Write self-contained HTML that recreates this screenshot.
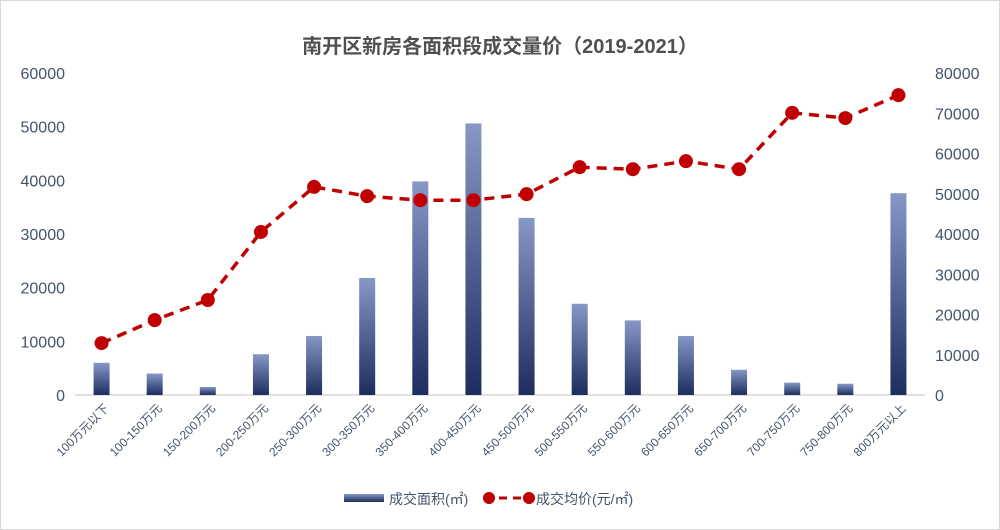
<!DOCTYPE html>
<html><head><meta charset="utf-8"><style>
body{margin:0;background:#fff;}
svg{display:block;font-family:"Liberation Sans","Noto Sans CJK SC",sans-serif;}
</style></head><body>
<svg id="c" width="1000" height="530">
<defs><linearGradient id="g" x1="0" y1="1" x2="0" y2="0"><stop offset="0" stop-color="#1c2d5e"/><stop offset="1" stop-color="#8797c6"/></linearGradient></defs>
<rect x="0.5" y="0.5" width="999" height="529" fill="#fff" stroke="#d9d9d9"/>
<text x="500" y="53" text-anchor="middle" font-size="20" font-weight="bold" fill="#505050">南开区新房各面积段成交量价（2019-2021）</text>
<g id="plot"></g>
<g>
<rect x="344" y="494" width="40" height="8" fill="url(#g)"/>
<text x="389" y="504" font-size="14" fill="#44546a">成交面积(㎡)</text>
<line x1="485" y1="498" x2="533" y2="498" stroke="#c00000" stroke-width="3" stroke-dasharray="8,6"/>
<circle cx="489" cy="498" r="6" fill="#c00000"/>
<circle cx="529" cy="498" r="6" fill="#c00000"/>
<text x="536" y="504" font-size="14" fill="#44546a">成交均价(元/㎡)</text>
</g>
</svg>
<script>
const categories=["100万元以下","100-150万元","150-200万元","200-250万元","250-300万元","300-350万元","350-400万元","400-450万元","450-500万元","500-550万元","550-600万元","600-650万元","650-700万元","700-750万元","750-800万元","800万元以上"];
const areaValues=[6000,4000,1500,7600,11000,21800,39800,50600,33000,17000,13900,11000,4700,2300,2100,37600];
const priceValues=[12900,18600,23600,40500,51700,49400,48400,48400,49900,56600,56100,58100,56100,70100,68800,74500];
const leftTicks=[0,10000,20000,30000,40000,50000,60000];
const rightTicks=[0,10000,20000,30000,40000,50000,60000,70000,80000];
const NS="http://www.w3.org/2000/svg";
const g=document.getElementById('plot');
const x0=75,x1=925,yb=395,yt=73;
const step=(x1-x0)/categories.length;
const xc=i=>x0+step*(i+0.5);
const yl=v=>yb-(v/60000)*(yb-yt);
const yr=v=>yb-(v/80000)*(yb-yt);
function mk(t,a){const e=document.createElementNS(NS,t);for(const k in a)e.setAttribute(k,a[k]);g.appendChild(e);return e;}
leftTicks.forEach(v=>{const t=mk('text',{x:65,y:yl(v)+6,'text-anchor':'end','font-size':16,fill:'#44546a'});t.textContent=v;

});
rightTicks.forEach(v=>{const t=mk('text',{x:935,y:yr(v)+6,'font-size':16,fill:'#44546a'});t.textContent=v;

});
const ax=mk('line',{x1:x0,y1:yb,x2:x1,y2:yb,stroke:'#d9d9d9','stroke-width':1.5});


areaValues.forEach((v,i)=>{const r=mk('rect',{x:xc(i)-8,y:yl(v),width:16,height:yb-yl(v),fill:'url(#g)'});

});
categories.forEach((c,i)=>{const X=xc(i)+8,Y=yb+14;const t=mk('text',{x:X,y:Y,'text-anchor':'end','font-size':12,fill:'#44546a',transform:`rotate(-45 ${X} ${Y})`});t.textContent=c;

});
const pl=mk('polyline',{points:priceValues.map((v,i)=>xc(i)+','+yr(v)).join(' '),fill:'none',stroke:'#c00000','stroke-width':3.5,'stroke-dasharray':'10,7'});


priceValues.forEach((v,i)=>{const c=mk('circle',{cx:xc(i),cy:yr(v),r:7,fill:'#c00000'});

});
</script>
</body></html>
